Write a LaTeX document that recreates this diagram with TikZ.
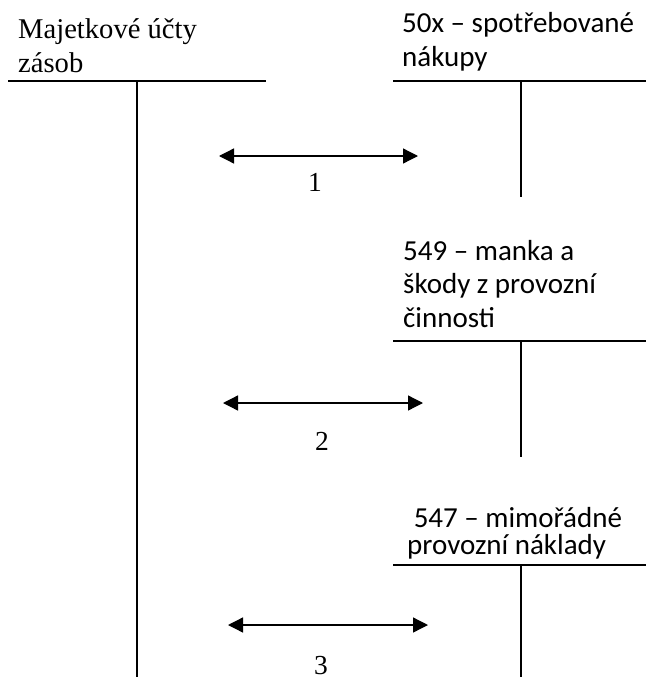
\documentclass[tikz,border=0pt]{standalone}
\usepackage{fontspec}
\setmainfont{Liberation Serif}
\newfontfamily\calib{Carlito}
\usetikzlibrary{arrows.meta}
\begin{document}
\begin{tikzpicture}[x=1pt,y=-1pt,
  tline/.style={line width=2pt},
  dblarrow/.style={line width=1.3pt,{Triangle[length=15pt,width=15pt]}-{Triangle[length=15pt,width=15pt]}},
  serif/.style={font=\fontsize{28.6}{33}\selectfont, inner sep=0pt, anchor=base west},
  sans/.style={font=\calib\fontsize{29}{33.5}\selectfont, inner sep=0pt, anchor=base west},
  sanstight/.style={font=\calib\fontsize{29}{26}\selectfont, inner sep=0pt, anchor=base west},
  num/.style={font=\fontsize{27.5}{30}\selectfont, inner sep=0pt, anchor=base}]
\useasboundingbox (0,0) rectangle (646,677);
% left account
\node[serif] (zasoby) at (18,39) {\begin{tabular}[t]{@{}l@{}}Majetkové účty\\zásob\end{tabular}};
\coordinate (L1) at (8,81);
\coordinate (L2) at (266,81);
\coordinate (LV1) at (137,81);
\coordinate (LV2) at (137,677);
\draw[tline] (L1) -- (L2);
\draw[tline] (LV1) -- (LV2);
% account 50x
\node[sans] (a50x) at (402,33) {\begin{tabular}[t]{@{}l@{}}50x – spotřebované\\nákupy\end{tabular}};
\coordinate (A1) at (393,81);
\coordinate (A2) at (646,81);
\coordinate (AV1) at (521,81);
\coordinate (AV2) at (521,197);
\draw[tline] (A1) -- (A2);
\draw[tline] (AV1) -- (AV2);
% account 549
\node[sans] (a549) at (403,260) {\begin{tabular}[t]{@{}l@{}}549 – manka a\\škody z provozní\\činnosti\end{tabular}};
\coordinate (B1) at (393,341);
\coordinate (B2) at (646,341);
\coordinate (BV1) at (521,341);
\coordinate (BV2) at (521,457);
\draw[tline] (B1) -- (B2);
\draw[tline] (BV1) -- (BV2);
% account 547
\node[sanstight] (a547) at (407,527) {\begin{tabular}[t]{@{}l@{}}\ 547 – mimořádné\\provozní náklady\end{tabular}};
\coordinate (C1) at (393,565);
\coordinate (C2) at (646,565);
\coordinate (CV1) at (521,565);
\coordinate (CV2) at (521,677);
\draw[tline] (C1) -- (C2);
\draw[tline] (CV1) -- (CV2);
% arrows
\coordinate (p1a) at (219,156);
\coordinate (p1b) at (418,156);
\draw[dblarrow] (p1a) -- (p1b);
\node[num] (n1) at (315,191) {1};
\coordinate (p2a) at (223,403);
\coordinate (p2b) at (423,403);
\draw[dblarrow] (p2a) -- (p2b);
\node[num] (n2) at (322,450) {2};
\coordinate (p3a) at (228,625);
\coordinate (p3b) at (428,625);
\draw[dblarrow] (p3a) -- (p3b);
\node[num] (n3) at (321,674) {3};
\end{tikzpicture}
\end{document}
